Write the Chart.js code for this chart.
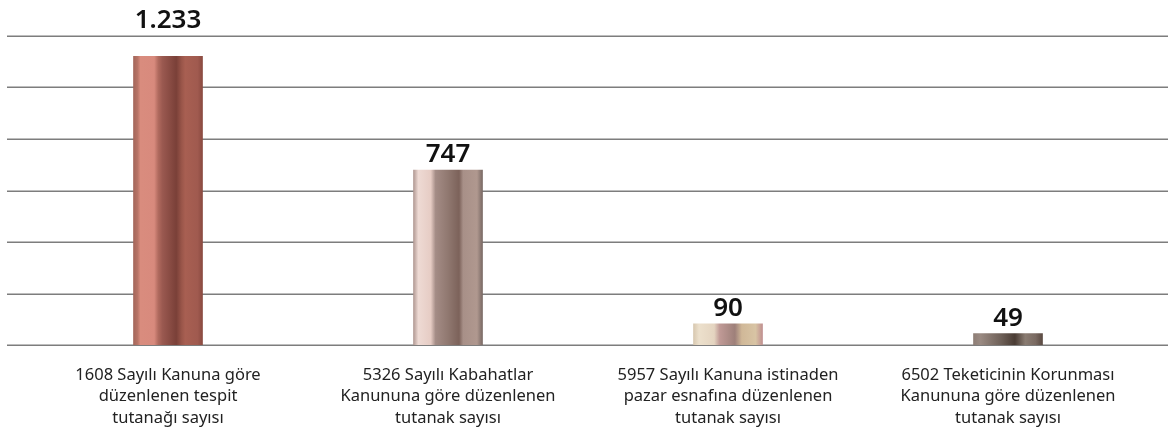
<!DOCTYPE html>
<html lang="tr">
<head>
<meta charset="utf-8">
<title>Tutanak sayıları</title>
<script src="https://cdn.jsdelivr.net/npm/chart.js@4.4.1/dist/chart.umd.min.js"></script>
<style>
  html, body { margin: 0; padding: 0; background: #fff; }
  #wrap { width: 1168px; height: 432px; position: relative; }
</style>
</head>
<body>
<div id="wrap"><canvas id="tutanakChart"></canvas></div>
<script>
// Category labels, one array entry per line
const categories = [
    ['1608 Sayılı Kanuna göre', 'düzenlenen tespit', 'tutanağı sayısı'],
    ['5326 Sayılı Kabahatlar', 'Kanununa göre düzenlenen', 'tutanak sayısı'],
    ['5957 Sayılı Kanuna istinaden', 'pazar esnafına düzenlenen', 'tutanak sayısı'],
    ['6502 Teketicinin Korunması', 'Kanununa göre düzenlenen', 'tutanak sayısı']
];
const counts = [1233, 747, 90, 49];
const countLabels = ['1.233', '747', '90', '49'];

// Metallic stripes for each bar: [offset, colour]
const barStops = [
    [[0, '#a4665a'], [0.06, '#b87466'], [0.1, '#d98c7e'], [0.3, '#d88a7d'], [0.36, '#b06a5e'],
     [0.42, '#9a5950'], [0.62, '#7a4038'], [0.7, '#9a564a'], [0.75, '#a85f52'], [0.93, '#a05a4f'], [1, '#8a4a40']],
    [[0, '#b29a94'], [0.07, '#eedad4'], [0.25, '#e6ccc4'], [0.32, '#a48c86'], [0.5, '#907870'],
     [0.66, '#7c625a'], [0.72, '#a89088'], [0.92, '#b0988f'], [1, '#7a6a65']],
    [[0, '#d8c8b0'], [0.08, '#ece0cc'], [0.3, '#e4d4c0'], [0.38, '#c09a96'], [0.6, '#9e807a'],
     [0.7, '#d0b898'], [0.9, '#d8c4a4'], [1, '#c09090']],
    [[0, '#8e7e76'], [0.1, '#9a8a82'], [0.4, '#6e6058'], [0.6, '#4a3c34'], [0.75, '#8a7c72'],
     [0.9, '#7a6a62'], [1, '#5a4a42']]
];

const BAR_W = 69;

function barGradient(context) {
    const chart = context.chart;
    const i = context.dataIndex;
    const xScale = chart.scales.x;
    if (!chart.chartArea || !xScale || i === undefined) return '#a0665a';
    const cx = xScale.getPixelForValue(i);
    const g = chart.ctx.createLinearGradient(cx - BAR_W / 2, 0, cx + BAR_W / 2, 0);
    barStops[i].forEach(([o, c]) => g.addColorStop(o, c));
    return g;
}

// Full-width horizontal rules behind the bars
const ruleLines = {
    id: 'ruleLines',
    beforeDatasetsDraw(chart) {
        const { ctx, scales: { y } } = chart;
        ctx.save();
        ctx.strokeStyle = '#7d7d7d';
        ctx.lineWidth = 1.5;
        y.ticks.forEach(t => {
            const py = Math.round(y.getPixelForValue(t.value)) + 0.25;
            ctx.beginPath();
            ctx.moveTo(7, py);
            ctx.lineTo(chart.width, py);
            ctx.stroke();
        });
        ctx.restore();
    }
};

// Value labels above each bar
const valueLabels = {
    id: 'valueLabels',
    afterDatasetsDraw(chart) {
        const { ctx, chartArea } = chart;
        const meta = chart.getDatasetMeta(0);
        ctx.save();
        ctx.font = '600 26px "Noto Sans", sans-serif';
        ctx.fillStyle = '#111';
        ctx.textAlign = 'center';
        ctx.textBaseline = 'alphabetic';
        meta.data.forEach((bar, i) => {
            let y = bar.y - 8;
            // tall bars get their label lifted above the plot
            if (bar.y - chartArea.top < 30) y = chartArea.top - 8;
            ctx.fillText(countLabels[i], bar.x, y);
        });
        ctx.restore();
    }
};

const ctx = document.getElementById('tutanakChart').getContext('2d');
new Chart(ctx, {
    type: 'bar',
    data: {
        labels: categories,
        datasets: [{
            data: counts,
            backgroundColor: barGradient,
            borderWidth: 0,
            barThickness: BAR_W
        }]
    },
    options: {
        responsive: true,
        maintainAspectRatio: false,
        animation: false,
        layout: { padding: { left: 28, right: 20, top: 36, bottom: 4 } },
        plugins: {
            legend: { display: false },
            tooltip: { enabled: false }
        },
        scales: {
            x: {
                grid: { display: false, drawTicks: false },
                border: { display: false },
                afterFit(scale) { scale.height = 83; },
                ticks: {
                    color: '#222',
                    padding: 20,
                    maxRotation: 0,
                    autoSkip: false,
                    font: { family: '"Noto Sans", sans-serif', size: 16.5, lineHeight: 1.28 }
                }
            },
            y: {
                display: false,
                min: 0,
                max: 1320,
                ticks: { stepSize: 220 }
            }
        }
    },
    plugins: [ruleLines, valueLabels]
});
</script>
</body>
</html>
